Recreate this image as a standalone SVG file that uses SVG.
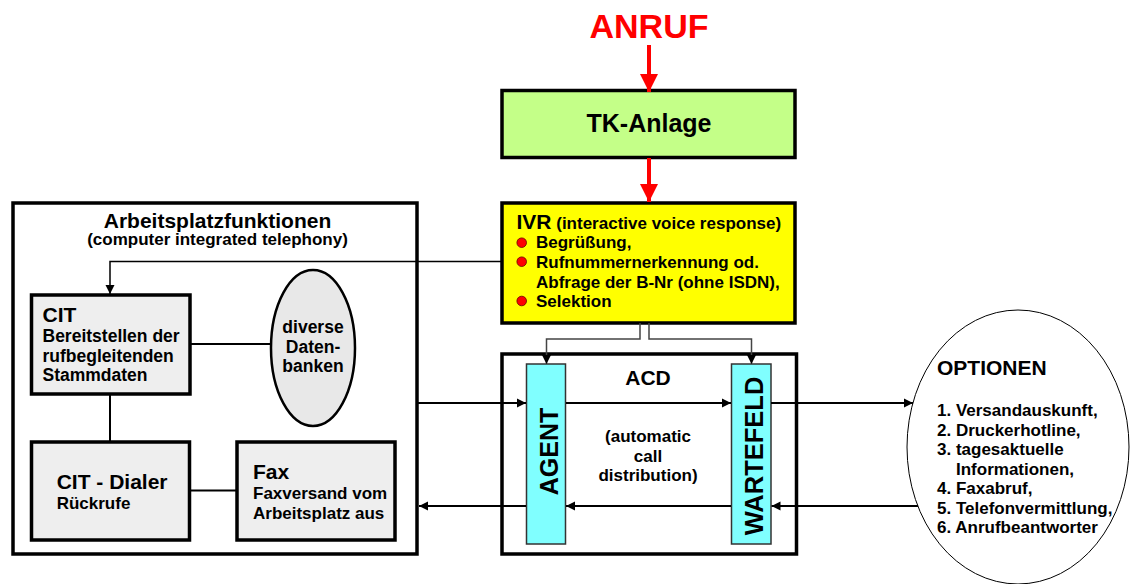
<svg xmlns="http://www.w3.org/2000/svg" width="1131" height="584" viewBox="0 0 1131 584">
  <style>
    text { font-family: "Liberation Sans", Arial, sans-serif; font-weight: bold; fill: #000; }
    .box { stroke: #000; stroke-width: 3.5; }
    .grey { fill: #eeeeee; }
    .bar { fill: #80ffff; stroke: #333; stroke-width: 1.5; }
    .line { fill: none; stroke: #000; stroke-width: 2; }
    .thin { fill: none; stroke: #000; stroke-width: 1.5; }
    .feed { fill: none; stroke: #444; stroke-width: 1.5; }
    .red { fill: none; stroke: #ff0000; stroke-width: 4; }
    .t17 { font-size: 17px; }
    .t175 { font-size: 17.5px; }
    .t21 { font-size: 21px; }
    .mid { text-anchor: middle; }
  </style>
  <defs>
    <marker id="arr" viewBox="0 0 10 10" refX="10" refY="5" markerWidth="9" markerHeight="10" markerUnits="userSpaceOnUse" orient="auto">
      <path d="M0,0 L10,5 L0,10 z" fill="#000"/>
    </marker>
    <marker id="arrRed" viewBox="0 0 10 10" refX="10" refY="5" markerWidth="18" markerHeight="18" markerUnits="userSpaceOnUse" orient="auto">
      <path d="M0,0 L10,5 L0,10 z" fill="#ff0000"/>
    </marker>
  </defs>

  <!-- incoming call -->
  <g id="anruf">
    <text x="649" y="37.5" class="mid" style="font-size:34px;fill:#ff0000">ANRUF</text>
  </g>

  <!-- PBX -->
  <g id="tk-anlage">
    <rect x="502" y="90.5" width="293" height="67" class="box" fill="#c4ff88"/>
    <text x="649" y="131.5" class="mid" style="font-size:25px">TK-Anlage</text>
  </g>

  <!-- IVR -->
  <g id="ivr">
    <rect x="502" y="203" width="293" height="120" class="box" fill="#ffff00"/>
    <text x="516.5" y="229"><tspan style="font-size:21px">IVR</tspan><tspan class="t17"> (interactive voice response)</tspan></text>
    <circle cx="521.7" cy="242.7" r="4.8" fill="#ff0000" stroke="#600" stroke-width="0.8"/>
    <circle cx="521.7" cy="261.7" r="4.8" fill="#ff0000" stroke="#600" stroke-width="0.8"/>
    <circle cx="521.7" cy="301" r="4.8" fill="#ff0000" stroke="#600" stroke-width="0.8"/>
    <text x="536" y="248" class="t17">Begrüßung,</text>
    <text x="536" y="268" class="t17">Rufnummernerkennung od.</text>
    <text x="536" y="288" class="t17">Abfrage der B-Nr (ohne ISDN),</text>
    <text x="536" y="307" class="t17">Selektion</text>
  </g>

  <!-- workstation functions -->
  <g id="arbeitsplatz">
    <rect x="13" y="203" width="404" height="351" class="box" fill="#fff"/>
    <text x="217.5" y="228" class="mid t21">Arbeitsplatzfunktionen</text>
    <text x="217.5" y="245" class="mid t17">(computer integrated telephony)</text>
  </g>

  <g id="cit">
    <rect x="31.5" y="295" width="158.5" height="99" class="box grey"/>
    <text x="42.5" y="322.3" class="t21">CIT</text>
    <text x="42.5" y="341.7" class="t175">Bereitstellen der</text>
    <text x="42.5" y="361.5" class="t175">rufbegleitenden</text>
    <text x="42.5" y="380.7" class="t175">Stammdaten</text>
  </g>

  <g id="datenbanken">
    <ellipse cx="313" cy="348" rx="42" ry="78" fill="#e8e8e8" stroke="#000" stroke-width="2.5"/>
    <text x="313" y="333.3" class="mid t175">diverse</text>
    <text x="313" y="352.7" class="mid t175">Daten-</text>
    <text x="313" y="371.7" class="mid t175">banken</text>
  </g>

  <g id="cit-dialer">
    <rect x="31.5" y="442" width="158" height="98" class="box grey"/>
    <text x="56.7" y="489.3" class="t21">CIT - Dialer</text>
    <text x="56.7" y="508.7" class="t17">Rückrufe</text>
  </g>

  <g id="fax">
    <rect x="237" y="442" width="158" height="98" class="box grey"/>
    <text x="253" y="478.7" class="t21">Fax</text>
    <text x="253" y="499.3" class="t17">Faxversand vom</text>
    <text x="253" y="518.7" class="t17">Arbeitsplatz aus</text>
  </g>

  <!-- automatic call distribution -->
  <g id="acd">
    <rect x="502" y="354" width="294.5" height="200" class="box" fill="#fff"/>
    <text x="648" y="385" class="mid t21">ACD</text>
    <text x="648" y="441.7" class="mid t17">(automatic</text>
    <text x="648" y="461.7" class="mid t17">call</text>
    <text x="648" y="480.5" class="mid t17">distribution)</text>
  </g>

  <g id="agent">
    <rect x="526.5" y="364" width="39" height="180" class="bar"/>
    <text transform="translate(557.5,451.5) rotate(-90)" class="mid" style="font-size:25px">AGENT</text>
  </g>

  <g id="wartefeld">
    <rect x="731.5" y="364" width="39.5" height="180" class="bar"/>
    <text transform="translate(762.5,456) rotate(-90)" class="mid" style="font-size:25.5px">WARTEFELD</text>
  </g>

  <!-- options -->
  <g id="optionen">
    <ellipse cx="1018" cy="447" rx="111" ry="137" fill="#fff" stroke="#000" stroke-width="1"/>
    <text x="937" y="375.3" class="t21">OPTIONEN</text>
    <text x="937" y="416" class="t17">1. Versandauskunft,</text>
    <text x="937" y="435.5" class="t17">2. Druckerhotline,</text>
    <text x="937" y="455" class="t17">3. tagesaktuelle</text>
    <text x="956" y="474.5" class="t17">Informationen,</text>
    <text x="937" y="494" class="t17">4. Faxabruf,</text>
    <text x="937" y="513.5" class="t17">5. Telefonvermittlung,</text>
    <text x="937" y="533" class="t17">6. Anrufbeantworter</text>
  </g>

  <!-- connectors -->
  <g id="connectors">
    <line x1="649" y1="45" x2="649" y2="92" class="red" marker-end="url(#arrRed)"/>
    <line x1="649" y1="158" x2="649" y2="202" class="red" marker-end="url(#arrRed)"/>

    <polyline points="502,261.5 110,261.5 110,294" class="thin" marker-end="url(#arr)"/>
    <polyline points="640,323 640,339 546.5,339 546.5,364" class="feed" marker-end="url(#arr)"/>
    <polyline points="649,323 649,339 751.5,339 751.5,364" class="feed" marker-end="url(#arr)"/>

    <line x1="190" y1="344" x2="271" y2="344" class="line"/>
    <line x1="110" y1="394" x2="110" y2="442" class="line"/>
    <line x1="189.5" y1="490.5" x2="237" y2="490.5" class="line"/>

    <line x1="417" y1="403" x2="526" y2="403" class="line" marker-end="url(#arr)"/>
    <line x1="566" y1="403" x2="731" y2="403" class="line" marker-end="url(#arr)"/>
    <line x1="771" y1="403" x2="913" y2="403" class="line" marker-end="url(#arr)"/>

    <line x1="918" y1="506" x2="771.5" y2="506" class="line" marker-end="url(#arr)"/>
    <line x1="731" y1="506" x2="566" y2="506" class="line" marker-end="url(#arr)"/>
    <line x1="526" y1="506" x2="419" y2="506" class="line" marker-end="url(#arr)"/>
  </g>
</svg>
